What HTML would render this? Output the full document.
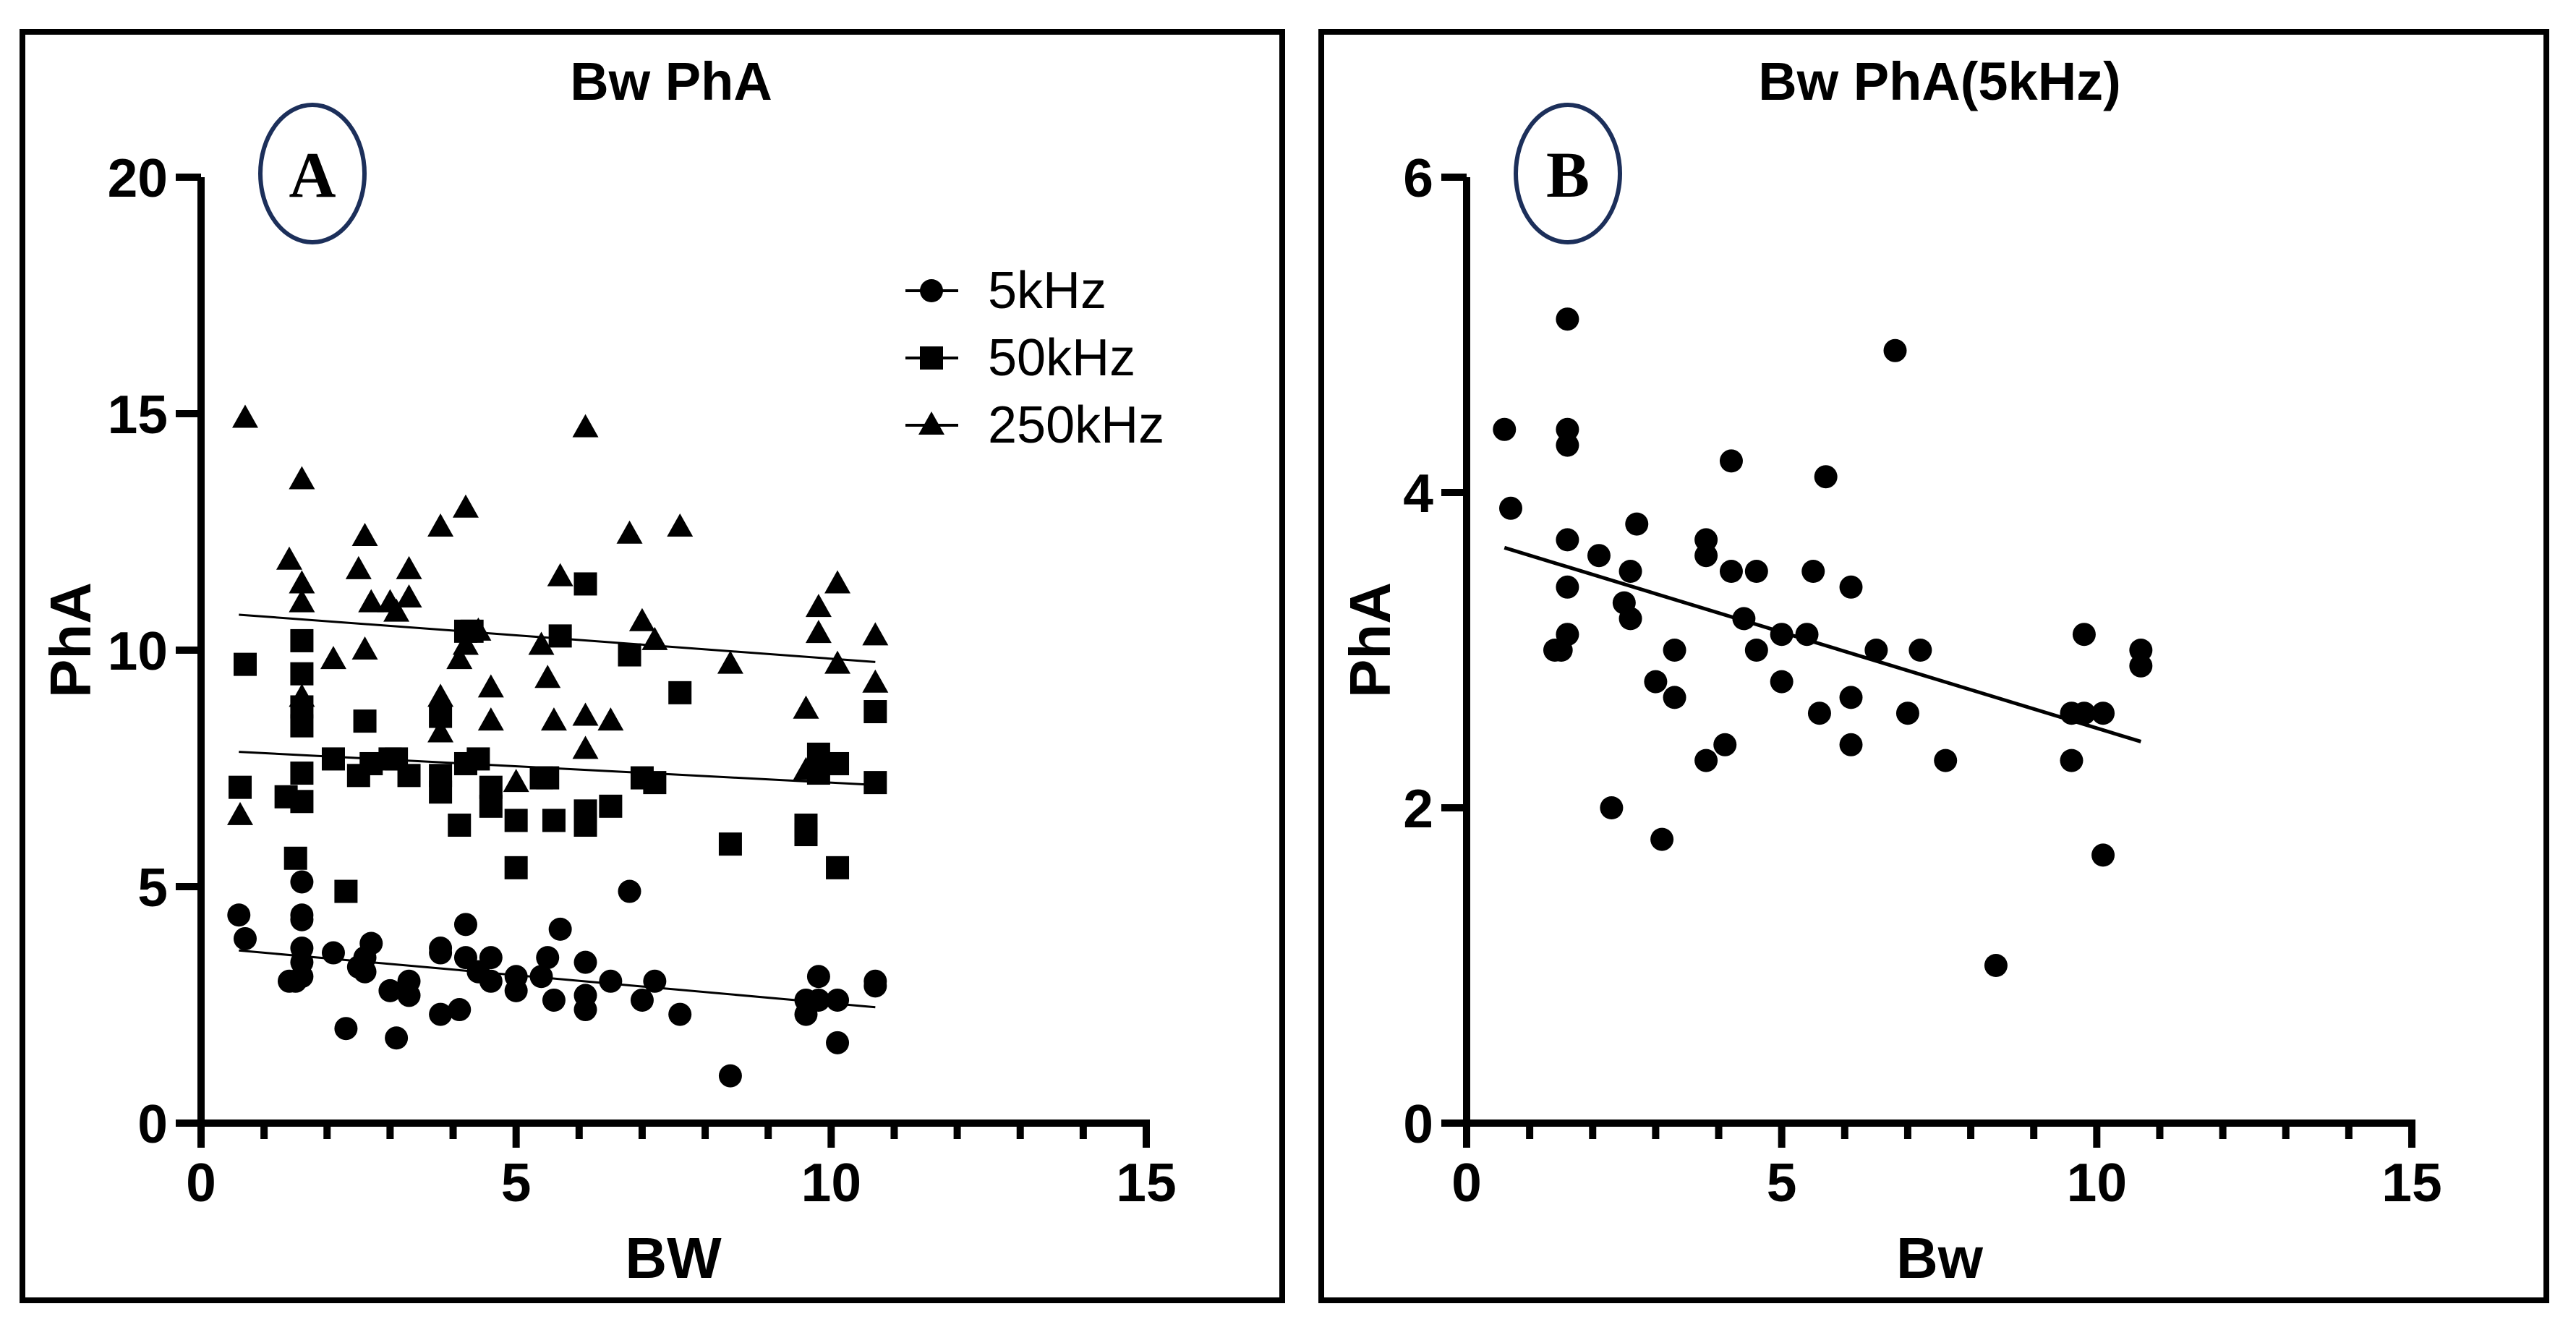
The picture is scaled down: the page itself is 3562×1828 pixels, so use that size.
<!DOCTYPE html>
<html><head><meta charset="utf-8"><style>
html,body{margin:0;padding:0;background:#fff}
svg{display:block}
text{font-family:"Liberation Sans",Arial,sans-serif;fill:#000}
</style></head><body>
<svg id="fig" width="3562" height="1828" viewBox="0 0 3562 1828" xmlns="http://www.w3.org/2000/svg">
<rect x="0" y="0" width="3562" height="1828" fill="#fff"/>
<rect x="31" y="44" width="1742" height="1754" fill="none" stroke="#000" stroke-width="8"/>
<rect x="1827" y="44" width="1694" height="1754" fill="none" stroke="#000" stroke-width="8"/>
<g id="pa"></g>
<g id="pb"></g>
</svg>
<script>
const bwVals = [0.6,0.7,1.4,1.5,1.6,1.6,1.6,1.6,1.6,1.6,2.1,2.3,2.5,2.6,2.6,2.7,3.0,3.1,3.3,3.3,3.8,3.8,3.8,4.1,4.2,4.2,4.4,4.6,4.6,5.0,5.0,5.4,5.5,5.6,5.7,6.1,6.1,6.1,6.5,6.8,7.0,7.2,7.6,8.4,9.6,9.6,9.8,9.8,10.1,10.1,10.7,10.7];
const pha5 = [4.4,3.9,3.0,3.0,5.1,4.4,4.3,3.7,3.4,3.1,3.6,2.0,3.3,3.5,3.2,3.8,2.8,1.8,3.0,2.7,3.7,3.6,2.3,2.4,4.2,3.5,3.2,3.5,3.0,3.1,2.8,3.1,3.5,2.6,4.1,3.4,2.7,2.4,3.0,4.9,2.6,3.0,2.3,1.0,2.6,2.3,3.1,2.6,2.6,1.7,3.0,2.9];
const bw50 = [0.62,0.7,1.35,1.5,1.6,1.6,1.6,1.6,1.6,1.6,2.1,2.3,2.5,2.6,2.7,3.0,3.1,3.3,3.8,3.8,3.8,4.1,4.2,4.2,4.4,4.3,4.6,4.6,5.0,5.0,5.4,5.5,5.6,5.7,6.1,6.1,6.1,6.5,6.8,7.0,7.2,7.6,8.4,9.6,9.6,9.8,9.8,10.1,10.1,10.7,10.7];
const pha50 = [7.1,9.7,6.9,5.6,10.2,9.5,8.8,8.4,7.4,6.8,7.7,4.9,7.35,8.5,7.6,7.7,7.7,7.35,8.6,7.35,7.0,6.3,10.4,7.6,7.7,10.4,7.1,6.7,6.4,5.4,7.3,7.3,6.4,10.3,11.4,6.6,6.3,6.7,9.9,7.3,7.2,9.1,5.9,6.3,6.1,7.8,7.4,7.6,5.4,8.7,7.2];
const bw250 = [0.7,0.62,1.4,1.6,1.6,1.6,1.6,2.1,2.5,2.6,2.6,2.7,3.0,3.1,3.3,3.3,3.8,3.8,3.8,4.1,4.2,4.2,4.4,4.6,4.6,5.0,5.4,5.5,5.6,5.7,6.1,6.1,6.1,6.5,6.8,7.0,7.2,7.6,8.4,9.6,9.6,9.8,9.8,10.1,10.1,10.7,10.7];
const pha250 = [14.9,6.5,11.9,13.6,11.4,11.0,9.0,9.8,11.7,12.4,10.0,11.0,11.0,10.8,11.1,11.7,12.6,9.0,8.25,9.8,13.0,10.1,10.4,9.2,8.5,7.2,10.1,9.4,8.5,11.55,14.7,8.6,7.9,8.5,12.45,10.6,10.2,12.6,9.7,8.75,7.45,10.9,10.35,11.4,9.7,10.3,9.3];
const fitA5 = [3.65,2.45], fitA50 = [7.85,7.15], fitA250 = [10.75,9.75], fitB = [3.65,2.42];
const fitX = [0.6,10.7];
const xTicks = [0,5,10,15];
const yTicksA = [0,5,10,15,20];
const yTicksB = [0,2,4,6];
const legendLabels = ['5kHz','50kHz','250kHz'];

const NS='http://www.w3.org/2000/svg';
function mk(parent,tag,attrs,txt){const e=document.createElementNS(NS,tag);for(const k in attrs)e.setAttribute(k,attrs[k]);if(txt!==undefined)e.textContent=txt;parent.appendChild(e);return e;}
const Y0=1553, Y1=245;
function axes(g,x0px,yMax,yTicks,title,xTitle,tcx,xtcx){
  const sx=v=>x0px+v*(1307/15), sy=v=>Y0-v*((Y0-Y1)/yMax);
  let e;
  e=mk(g,'line',{x1:sx(0),y1:sy(yMax),x2:sx(0),y2:Y0+5,stroke:'#000','stroke-width':10});
  
  e=mk(g,'line',{x1:sx(0)-35,y1:Y0,x2:sx(15)+5,y2:Y0,stroke:'#000','stroke-width':10});
  
  for(let i=0;i<=15;i++){const maj=i%5===0;
    e=mk(g,'line',{x1:sx(i),y1:Y0,x2:sx(i),y2:maj?1587:1575,stroke:'#000','stroke-width':10});
    }
  xTicks.forEach(v=>{e=mk(g,'text',{x:sx(v),y:1661,'font-size':75,'font-weight':'bold','text-anchor':'middle'},String(v));
    });
  yTicks.forEach(v=>{e=mk(g,'line',{x1:sx(0)-35,y1:sy(v),x2:sx(0),y2:sy(v),stroke:'#000','stroke-width':10});
    
    e=mk(g,'text',{x:sx(0)-46,y:sy(v)+27,'font-size':75,'font-weight':'bold','text-anchor':'end'},String(v));
    });
  e=mk(g,'text',{x:tcx,y:138,'font-size':74,'font-weight':'bold','text-anchor':'middle'},title);
  
  e=mk(g,'text',{x:xtcx,y:1767,'font-size':80,'font-weight':'bold','text-anchor':'middle'},xTitle);
  
  return {sx,sy};
}
function circle(g,cx,cy,r){const e=mk(g,'circle',{cx,cy,r,fill:'#000'});}
function square(g,cx,cy){const e=mk(g,'rect',{x:cx-16,y:cy-16,width:32,height:32,fill:'#000'});}
function tri(g,cx,cy){const e=mk(g,'polygon',{points:`${cx},${cy-19} ${cx+18},${cy+13} ${cx-18},${cy+13}`,fill:'#000'});}
function fit(g,s,f,w,name){const e=mk(g,'line',{x1:s.sx(fitX[0]),y1:s.sy(f[0]),x2:s.sx(fitX[1]),y2:s.sy(f[1]),stroke:'#000','stroke-width':w});}

// Panel A
const ga=document.getElementById('pa');
const sa=axes(ga,278,20,yTicksA,'Bw PhA','BW',928,931);
let t=mk(ga,'text',{x:0,y:0,'font-size':80,'font-weight':'bold','text-anchor':'middle',transform:'translate(125,885) rotate(-90)'},'PhA');

bw250.forEach((x,i)=>tri(ga,sa.sx(x),sa.sy(pha250[i])));
bw50.forEach((x,i)=>square(ga,sa.sx(x),sa.sy(pha50[i])));
bwVals.forEach((x,i)=>circle(ga,sa.sx(x),sa.sy(pha5[i]),16));
fit(ga,sa,fitA5,3,'fit-line-5khz');fit(ga,sa,fitA50,3,'fit-line-50khz');fit(ga,sa,fitA250,3,'fit-line-250khz');
legendLabels.forEach((lab,i)=>{const y=402+i*93;
  const lg=mk(ga,'g',{});
  mk(lg,'line',{x1:1252,y1:y,x2:1325,y2:y,stroke:'#000','stroke-width':4});
  if(i===0)circle(lg,1288,y,16);else if(i===1)square(lg,1288,y);else tri(lg,1288,y);
  mk(lg,'text',{x:1366,y:y+24,'font-size':72},lab);});
let el=mk(ga,'ellipse',{cx:432,cy:240,rx:72,ry:95,fill:'none',stroke:'#1c2f5a','stroke-width':6});

el=mk(ga,'text',{x:432,y:272,'font-size':90,'font-weight':'bold','text-anchor':'middle',style:'font-family:"Liberation Serif",serif'},'A');


// Panel B
const gb=document.getElementById('pb');
const sb=axes(gb,2028,6,yTicksB,'Bw PhA(5kHz)','Bw',2682,2682);
t=mk(gb,'text',{x:0,y:0,'font-size':80,'font-weight':'bold','text-anchor':'middle',transform:'translate(1922,885) rotate(-90)'},'PhA');

bwVals.forEach((x,i)=>circle(gb,sb.sx(x),sb.sy(pha5[i]),16));
fit(gb,sb,fitB,5,'fit-line-5khz');
el=mk(gb,'ellipse',{cx:2168,cy:240,rx:72,ry:95,fill:'none',stroke:'#1c2f5a','stroke-width':6});

el=mk(gb,'text',{x:2168,y:272,'font-size':90,'font-weight':'bold','text-anchor':'middle',style:'font-family:"Liberation Serif",serif'},'B');

</script>
</body></html>
